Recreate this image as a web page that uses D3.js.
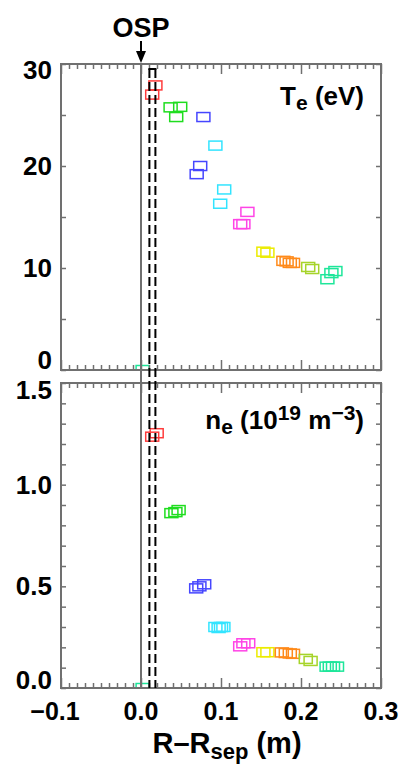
<!DOCTYPE html>
<html>
<head>
<meta charset="utf-8">
<script src="https://cdn.jsdelivr.net/npm/d3@7"></script>
<style>
body { margin: 0; background: #fff; }
text { font-family: "Liberation Sans", Arial, sans-serif; font-weight: bold; fill: #000; }
</style>
</head>
<body>
<div id="chart"></div>
<script>
// ***** data *****
var groupColors = ["#ff3c3c", "#1fdd1f", "#4646ff", "#33e4ff", "#ff44e6", "#ecec00", "#ff8a1a", "#a6d42a", "#1ee69a"];

// electron temperature (eV) vs R-Rsep (m)
var teX = [0.018, 0.014, 0.037, 0.049, 0.044, 0.078, 0.074, 0.0696, 0.093, 0.104, 0.099,
           0.133, 0.124, 0.128, 0.153, 0.158, 0.178, 0.182, 0.186, 0.190, 0.209, 0.214,
           0.233, 0.238, 0.243, 0.002];
var teY = [27.9, 27.0, 25.75, 25.8, 24.8, 24.8, 20.0, 19.2, 22.0, 17.7, 16.3,
           15.5, 14.3, 14.3, 11.6, 11.5, 10.7, 10.65, 10.5, 10.5, 10.1, 9.9,
           8.9, 9.5, 9.7, 0.0];
var teGroup = [0, 0, 1, 1, 1, 2, 2, 2, 3, 3, 3, 4, 4, 4, 5, 5, 6, 6, 6, 6, 7, 7, 8, 8, 8, 8];

// electron density (1e19 m^-3) vs R-Rsep (m)
var neX = [0.014, 0.0196, 0.038, 0.043, 0.047, 0.069, 0.073, 0.079, 0.093, 0.097, 0.100, 0.103,
           0.124, 0.128, 0.134, 0.153, 0.158, 0.176, 0.181, 0.186, 0.190, 0.206, 0.212,
           0.232, 0.236, 0.240, 0.245, 0.002];
var neY = [1.236, 1.253, 0.86, 0.865, 0.875, 0.49, 0.50, 0.51, 0.30, 0.295, 0.30, 0.30,
           0.205, 0.22, 0.22, 0.176, 0.176, 0.175, 0.172, 0.170, 0.168, 0.143, 0.133,
           0.105, 0.105, 0.105, 0.105, 0.0];
var neGroup = [0, 0, 1, 1, 1, 2, 2, 2, 3, 3, 3, 3, 4, 4, 4, 5, 5, 6, 6, 6, 6, 7, 7, 8, 8, 8, 8, 8];

var xTickValues = [-0.1, 0.0, 0.1, 0.2, 0.3];
var xTickLabels = ["\u22120.1", "0.0", "0.1", "0.2", "0.3"];
var teTickValues = [0, 10, 20, 30];
var teTickLabels = ["0", "10", "20", "30"];
var neTickValues = [0, 0.5, 1.0, 1.5];
var neTickLabels = ["0.0", "0.5", "1.0", "1.5"];
var dashedX = [0.0105, 0.018];

// ***** layout *****
var svgWidth = 399, svgHeight = 765;
var left = 61, width = 320;
var axisColor = "#707070";

var svg = d3.select("#chart").append("svg")
    .attr("width", svgWidth)
    .attr("height", svgHeight);

var x = d3.scaleLinear().domain([-0.1, 0.3]).range([left, left + width]);

var panels = [
    {id: "te", top: 64, height: 306, domain: [0, 30], minorStep: 5,
     xs: teX, ys: teY, gs: teGroup, ticks: teTickValues, labels: teTickLabels,
     lowShift: -1, highShift: 15},
    {id: "ne", top: 383, height: 305, domain: [0, 1.5], minorStep: 0.1,
     xs: neX, ys: neY, gs: neGroup, ticks: neTickValues, labels: neTickLabels,
     lowShift: 1, highShift: 16}
];

var minorX = d3.range(-100, 301, 10).map(d => d / 1000);

panels.forEach(function(p) {
    var y = d3.scaleLinear().domain(p.domain).range([p.top + p.height, p.top]);
    var g = svg.append("g");

    // clip for markers
    svg.append("clipPath").attr("id", "clip-" + p.id)
        .append("rect")
        .attr("x", left).attr("y", p.top)
        .attr("width", width).attr("height", p.height);

    // markers
    g.append("g").attr("clip-path", "url(#clip-" + p.id + ")")
        .selectAll("rect")
        .data(p.xs.map((d, i) => ({x: d, y: p.ys[i], g: p.gs[i]})))
        .enter()
        .append("rect")
        .attr("x", d => x(d.x) - 6.5)
        .attr("y", d => y(d.y) - 4.5)
        .attr("width", 13)
        .attr("height", 9)
        .attr("fill", "none")
        .attr("stroke", d => groupColors[d.g])
        .attr("stroke-width", 1.5);

    // x ticks, bottom (pointing up) and top (pointing down)
    var minorTicks = minorX.filter(v => Math.abs(Math.round(v * 10) - v * 10) > 1e-6);
    var bottom = g.append("g").attr("transform", `translate(0,${p.top + p.height})`);
    bottom.call(d3.axisBottom(x).tickValues(minorTicks).tickSizeInner(-5).tickSizeOuter(0).tickFormat(""));
    bottom.append("g").call(d3.axisBottom(x).tickValues(xTickValues).tickSizeInner(-10).tickSizeOuter(0).tickFormat(""));
    var top = g.append("g").attr("transform", `translate(0,${p.top})`);
    top.call(d3.axisTop(x).tickValues(minorTicks).tickSizeInner(-5).tickSizeOuter(0).tickFormat(""));
    top.append("g").call(d3.axisTop(x).tickValues(xTickValues).tickSizeInner(-10).tickSizeOuter(0).tickFormat(""));

    // y ticks, left and right, pointing in
    var yTicks = d3.range(p.domain[0], p.domain[1] + p.minorStep / 2, p.minorStep);
    g.append("g").attr("transform", `translate(${left},0)`)
        .call(d3.axisLeft(y).tickValues(yTicks).tickSizeInner(-5).tickSizeOuter(0).tickFormat(""));
    g.append("g").attr("transform", `translate(${left + width},0)`)
        .call(d3.axisRight(y).tickValues(yTicks).tickSizeInner(-5).tickSizeOuter(0).tickFormat(""));

    g.selectAll(".domain").remove();
    g.selectAll(".tick line").attr("stroke", axisColor).attr("stroke-width", 1.5);

    // frame
    g.append("rect")
        .attr("x", left).attr("y", p.top)
        .attr("width", width).attr("height", p.height)
        .attr("fill", "none")
        .attr("stroke", axisColor)
        .attr("stroke-width", 2);

    // y tick labels: end labels kept inside the panel height
    g.selectAll(".ylab")
        .data(p.ticks)
        .enter()
        .append("text")
        .attr("x", 52)
        .attr("y", function(d, i) {
            if (i === 0) return y(d) + p.lowShift;
            if (i === p.ticks.length - 1) return y(d) + p.highShift;
            return y(d) + 9;
        })
        .attr("text-anchor", "end")
        .attr("font-size", 26)
        .text((d, i) => p.labels[i]);
});

// separatrix line at R = Rsep
svg.append("line")
    .attr("x1", x(0)).attr("x2", x(0))
    .attr("y1", panels[0].top).attr("y2", panels[1].top + panels[1].height)
    .attr("stroke", axisColor)
    .attr("stroke-width", 2);

// dashed lines around the OSP
dashedX.forEach(function(v) {
    svg.append("line")
        .attr("x1", x(v)).attr("x2", x(v))
        .attr("y1", 69).attr("y2", panels[1].top + panels[1].height)
        .attr("stroke", "#000")
        .attr("stroke-width", 2)
        .attr("stroke-dasharray", "9,4");
});
svg.append("line")
    .attr("x1", x(dashedX[0]) - 1).attr("x2", x(dashedX[1]) + 1)
    .attr("y1", 69).attr("y2", 69)
    .attr("stroke", "#000").attr("stroke-width", 2);

// x tick labels
svg.selectAll(".xlab")
    .data(xTickValues)
    .enter()
    .append("text")
    .attr("x", d => x(d) + (d < 0 ? -6 : 0))
    .attr("y", 720)
    .attr("text-anchor", "middle")
    .attr("font-size", 25)
    .text((d, i) => xTickLabels[i]);

// x axis title
var xTitle = svg.append("text")
    .attr("x", 227)
    .attr("y", 753)
    .attr("text-anchor", "middle")
    .attr("font-size", 29);
xTitle.append("tspan").text("R\u2013R");
xTitle.append("tspan").attr("font-size", 22).attr("dy", 6).text("sep");
xTitle.append("tspan").attr("dy", -6).text(" (m)");

// OSP marker
svg.append("text")
    .attr("x", x(0))
    .attr("y", 37)
    .attr("text-anchor", "middle")
    .attr("font-size", 27)
    .text("OSP");
svg.append("line")
    .attr("x1", x(0)).attr("x2", x(0))
    .attr("y1", 41).attr("y2", 54)
    .attr("stroke", "#000").attr("stroke-width", 2);
svg.append("path")
    .attr("d", `M${x(0) - 5},51 L${x(0) + 5},51 L${x(0)},63 Z`)
    .attr("fill", "#000");

// panel labels
var teLabel = svg.append("text")
    .attr("x", 364).attr("y", 105)
    .attr("text-anchor", "end")
    .attr("font-size", 26);
teLabel.append("tspan").text("T");
teLabel.append("tspan").attr("font-size", 21).attr("dy", 5).text("e");
teLabel.append("tspan").attr("dy", -5).text(" (eV)");

var neLabel = svg.append("text")
    .attr("x", 364).attr("y", 429)
    .attr("text-anchor", "end")
    .attr("font-size", 26);
neLabel.append("tspan").text("n");
neLabel.append("tspan").attr("font-size", 21).attr("dy", 5).text("e");
neLabel.append("tspan").attr("dy", -5).text(" (10");
neLabel.append("tspan").attr("font-size", 21).attr("dy", -9).text("19");
neLabel.append("tspan").attr("dy", 9).text(" m");
neLabel.append("tspan").attr("font-size", 21).attr("dy", -9).text("\u22123");
neLabel.append("tspan").attr("dy", 9).text(")");
</script>
</body>
</html>
